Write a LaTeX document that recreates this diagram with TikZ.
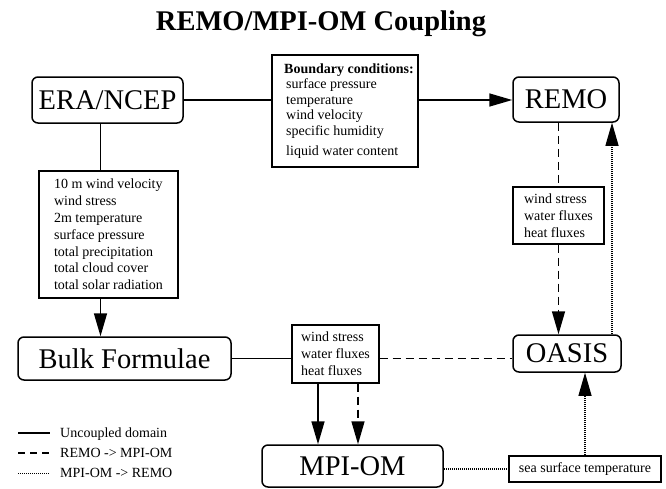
\documentclass[tikz,border=0pt]{standalone}
\usepackage{fontspec}
\setmainfont{Liberation Serif}
\usetikzlibrary{arrows.meta}
\begin{document}
\begin{tikzpicture}[x=1pt,y=-1pt,
  bigbox/.style={draw, rounded corners=6pt, line width=1.5pt, inner sep=0pt,
    font=\fontsize{28.5}{34}\selectfont},
  infobox/.style={draw, line width=1.4pt, inner sep=0pt, align=left,
    font=\fontsize{14}{16.8}\selectfont},
  conn/.style={line width=1.6pt},
  dashconn/.style={line width=1.5pt, dash pattern=on 8pt off 5pt},
  dotconn/.style={line width=1.1pt, dash pattern=on 1pt off 1pt},
  tipped/.style={-{Triangle[length=23pt,width=13pt]}},
  legtext/.style={anchor=base west, inner sep=0pt, font=\fontsize{14}{16.8}\selectfont}
]
\useasboundingbox (0,0) rectangle (666,488);

\node[font=\fontsize{28.5}{34}\selectfont\bfseries, inner sep=0pt] (title) at (321,24) {REMO/MPI-OM Coupling};

\node[bigbox, minimum width=151pt, minimum height=46pt] (era) at (107.5,100) {ERA/NCEP};
\node[bigbox, minimum width=106pt, minimum height=45pt] (remo) at (566,99.5) {REMO};
\node[bigbox, minimum width=213pt, minimum height=43pt] (bulk) at (124.5,358.5) {Bulk Formulae};
\node[bigbox, minimum width=108pt, minimum height=37pt] (oasis) at (567,353.5) {OASIS};
\node[bigbox, minimum width=181pt, minimum height=42pt] (mpi) at (352.5,466) {MPI-OM};

\node[draw, line width=1.4pt, inner sep=0pt, minimum width=146pt, minimum height=112pt,
  font=\fontsize{14}{15.5}\selectfont] (bc) at (345,111)
  {\hspace*{8pt}\begin{tabular}{@{}l@{}}\textbf{Boundary conditions:}\\
  \hspace*{2pt}surface pressure\\ \hspace*{2pt}temperature\\ \hspace*{2pt}wind velocity\\
  \hspace*{2pt}specific humidity\\[4.5pt] \hspace*{2pt}liquid water content\end{tabular}};

\node[infobox, minimum width=139pt, minimum height=127pt] (left) at (108.5,234.5)
  {10 m wind velocity\\ wind stress\\ 2m temperature\\ surface pressure\\
   total precipitation\\ total cloud cover\\ total solar radiation};

\node[infobox, minimum width=87pt, minimum height=58pt] (mid) at (335.5,354)
  {wind stress\\ water fluxes\\ heat fluxes};
\node[infobox, minimum width=91pt, minimum height=57pt] (rflux) at (558.5,215.5)
  {wind stress\\ water fluxes\\ heat fluxes};
\node[infobox, minimum width=152pt, minimum height=26pt] (sst) at (585,469)
  {sea surface temperature};

\coordinate (vx) at (100.5,0);
\coordinate (ax1) at (318,0);
\coordinate (ax2) at (358,0);
\coordinate (dx) at (612,0);

\draw[conn] (era.east) -- (bc.west |- era.east);
\draw[conn, tipped] (bc.east |- era.east) -- (remo.west |- era.east);
\draw[conn] (era.south -| vx) -- (left.north -| vx);
\draw[conn, tipped] (left.south -| vx) -- (bulk.north -| vx);
\draw[conn] (bulk.east) -- (mid.west |- bulk.east);
\draw[dashconn] (mid.east |- bulk.east) -- (oasis.west |- bulk.east);
\draw[conn, tipped] (mid.south -| ax1) -- (mpi.north -| ax1);
\draw[dashconn, tipped] (mid.south -| ax2) -- (mpi.north -| ax2);
\draw[dashconn] (remo.south -| rflux.north) -- (rflux.north);
\draw[dashconn, tipped] (rflux.south) -- (oasis.north -| rflux.south);
\draw[dotconn, tipped] (oasis.north -| dx) -- (remo.south -| dx);
\draw[dotconn] (mpi.east |- sst.west) -- (sst.west);
\draw[dotconn, tipped] (sst.north) -- (oasis.south -| sst.north);

% legend
\coordinate (la1) at (18,433); \coordinate (lb1) at (50,433);
\coordinate (la2) at (18,453); \coordinate (lb2) at (50,453);
\coordinate (la3) at (18,473); \coordinate (lb3) at (50,473);
\draw[conn] (la1) -- (lb1);
\draw[line width=1.5pt, dash pattern=on 7pt off 5pt] (la2) -- (lb2);
\draw[line width=0.9pt, dash pattern=on 1pt off 1pt] (la3) -- (lb3);
\node[legtext] (lt1) at (60,437.5) {Uncoupled domain};
\node[legtext] (lt2) at (60,457.5) {REMO -> MPI-OM};
\node[legtext] (lt3) at (60,477) {MPI-OM -> REMO};
\end{tikzpicture}
\end{document}
